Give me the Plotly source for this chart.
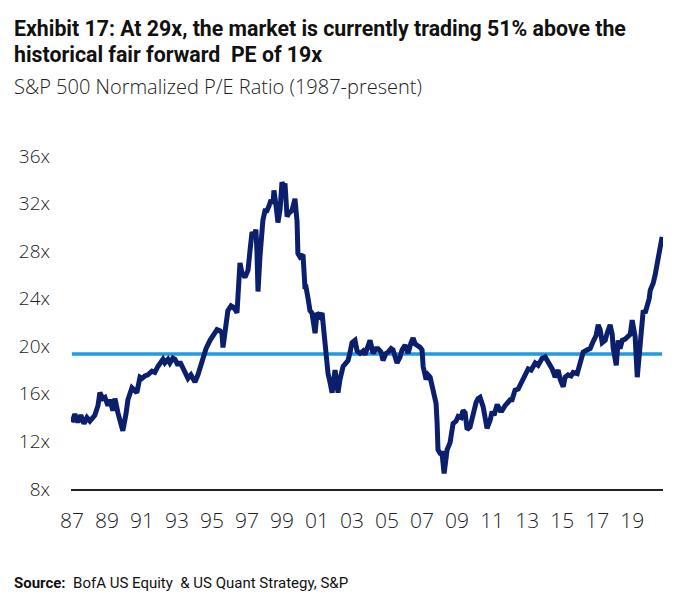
import plotly.graph_objects as go

# ---- data (decimal years, normalized forward P/E) ----
years = [
    1987.00, 1987.17, 1987.34, 1987.51, 1987.69, 1987.86, 1988.03, 1988.31, 1988.49, 1988.60,
    1988.77, 1988.89, 1989.06, 1989.17, 1989.34, 1989.46, 1989.63, 1989.80, 1989.91, 1990.09,
    1990.20, 1990.43, 1990.60, 1990.71, 1990.89, 1991.00, 1991.17, 1991.34, 1991.57, 1991.74,
    1991.91, 1992.03, 1992.20, 1992.31, 1992.49, 1992.60, 1992.77, 1992.89, 1993.06, 1993.17,
    1993.34, 1993.46, 1993.63, 1993.80, 1993.91, 1994.03, 1994.20, 1994.31, 1994.49, 1994.66,
    1994.89, 1995.11, 1995.29, 1995.46, 1995.57, 1995.63, 1995.74, 1995.91, 1996.09, 1996.20,
    1996.37, 1996.43, 1996.60, 1996.71, 1996.89, 1997.06, 1997.17, 1997.29, 1997.40, 1997.51,
    1997.57, 1997.63, 1997.74, 1997.91, 1998.03, 1998.14, 1998.26, 1998.37, 1998.49, 1998.54,
    1998.66, 1998.77, 1998.89, 1999.00, 1999.11, 1999.17, 1999.29, 1999.40, 1999.57, 1999.74,
    1999.86, 1999.91, 2000.03, 2000.20, 2000.31, 2000.37, 2000.49, 2000.60, 2000.71, 2000.89,
    2001.00, 2001.17, 2001.29, 2001.46, 2001.63, 2001.74, 2001.86, 2002.03, 2002.20, 2002.31,
    2002.49, 2002.66, 2002.77, 2002.89, 2003.00, 2003.17, 2003.29, 2003.46, 2003.63, 2003.74,
    2003.91, 2004.03, 2004.20, 2004.37, 2004.49, 2004.66, 2004.77, 2004.94, 2005.06, 2005.23,
    2005.34, 2005.46, 2005.57, 2005.74, 2005.86, 2006.03, 2006.20, 2006.37, 2006.49, 2006.60,
    2006.71, 2006.89, 2007.00, 2007.06, 2007.23, 2007.34, 2007.46, 2007.63, 2007.80, 2007.86,
    2007.91, 2008.03, 2008.14, 2008.26, 2008.43, 2008.60, 2008.77, 2008.94, 2009.06, 2009.23,
    2009.34, 2009.46, 2009.57, 2009.74, 2009.86, 2009.97, 2010.09, 2010.20, 2010.31, 2010.49,
    2010.60, 2010.71, 2010.89, 2011.00, 2011.11, 2011.29, 2011.46, 2011.57, 2011.74, 2011.86,
    2012.03, 2012.14, 2012.31, 2012.49, 2012.60, 2012.77, 2012.89, 2013.06, 2013.23, 2013.46,
    2013.63, 2013.86, 2014.03, 2014.14, 2014.31, 2014.43, 2014.60, 2014.77, 2014.89, 2015.06,
    2015.17, 2015.34, 2015.51, 2015.63, 2015.86, 2016.03, 2016.20, 2016.43, 2016.60, 2016.77,
    2016.94, 2017.06, 2017.17, 2017.29, 2017.46, 2017.57, 2017.74, 2017.86, 2017.91, 2018.09,
    2018.20, 2018.31, 2018.43, 2018.60, 2018.71, 2018.89, 2019.00, 2019.11, 2019.17, 2019.29,
    2019.40, 2019.46, 2019.63, 2019.74, 2019.86, 2019.97, 2020.03, 2020.14, 2020.20, 2020.31,
    2020.43, 2020.49, 2020.60, 2020.71,
]
pe_ratio = [
    13.6, 14.3, 13.6, 14.2, 13.5, 14.0, 13.7, 14.2, 15.0, 16.1,
    15.6, 15.7, 15.0, 15.5, 14.6, 15.6, 14.4, 13.2, 12.9, 14.3,
    15.5, 16.5, 16.2, 16.1, 17.4, 17.3, 17.5, 17.6, 17.9, 17.8,
    18.3, 18.6, 18.9, 18.6, 18.9, 18.6, 19.0, 18.9, 18.4, 18.7,
    18.2, 17.7, 17.3, 17.6, 17.2, 17.0, 17.6, 18.2, 19.1, 19.8,
    20.5, 21.0, 21.4, 21.3, 21.1, 19.9, 21.0, 23.0, 23.4, 23.3,
    23.0, 22.8, 27.0, 26.2, 25.8, 26.4, 28.0, 29.6, 29.3, 29.8,
    28.0, 24.6, 27.5, 30.6, 31.4, 31.4, 31.8, 32.3, 32.0, 33.1,
    31.8, 30.4, 31.5, 33.8, 33.3, 33.7, 30.9, 31.2, 31.4, 32.4,
    30.5, 27.8, 27.5, 27.7, 25.0, 25.0, 24.0, 23.0, 22.8, 21.1,
    22.8, 22.5, 22.8, 20.0, 17.7, 17.0, 16.1, 18.0, 16.1, 17.2,
    18.3, 18.6, 18.8, 19.5, 20.3, 20.5, 19.6, 19.4, 19.6, 19.3,
    19.9, 20.5, 19.4, 19.8, 19.8, 19.5, 18.8, 19.4, 19.5, 19.8,
    19.7, 19.2, 18.6, 19.1, 19.7, 20.1, 19.4, 20.3, 20.7, 20.2,
    20.1, 19.9, 19.7, 18.3, 17.2, 17.6, 17.4, 16.2, 15.2, 13.5,
    11.3, 11.0, 11.0, 9.3, 11.3, 11.9, 13.5, 13.7, 14.1, 14.0,
    14.6, 14.4, 13.0, 13.2, 14.1, 14.8, 15.3, 15.6, 15.7, 14.9,
    14.0, 13.1, 13.8, 14.5, 14.2, 15.1, 14.6, 14.6, 15.0, 15.2,
    15.5, 15.5, 16.3, 16.4, 16.7, 17.2, 17.7, 18.1, 18.0, 18.6,
    18.4, 19.0, 19.1, 18.8, 18.5, 18.1, 17.4, 18.0, 17.2, 16.6,
    17.4, 17.6, 17.5, 17.8, 17.7, 18.8, 19.5, 19.7, 19.8, 20.4,
    20.9, 21.8, 21.4, 20.3, 20.5, 21.1, 21.8, 21.0, 19.9, 18.4,
    20.5, 19.8, 20.5, 20.6, 20.8, 21.0, 22.2, 21.0, 20.8, 17.4,
    19.5, 20.8, 23.0, 22.8, 23.3, 24.0, 24.7, 25.0, 25.3, 26.0,
    27.0, 27.8, 28.3, 29.2,
]
fair_pe = 19.35

x_tick_vals = list(range(1987, 2020, 2))
x_tick_text = ["87", "89", "91", "93", "95", "97", "99", "01", "03", "05",
               "07", "09", "11", "13", "15", "17", "19"]
y_tick_vals = [8, 12, 16, 20, 24, 28, 32, 36]
y_tick_text = ["8x", "12x", "16x", "20x", "24x", "28x", "32x", "36x"]

title_line1 = "Exhibit 17: At 29x, the market is currently trading 51% above the"
title_line2 = "historical fair forward  PE of 19x"
subtitle = "S&P 500 Normalized P/E Ratio (1987-present)"
source_bold = "Source:"
source_text = "BofA US Equity  & US Quant Strategy, S&P"

# ---- layout geometry ----
W, H = 680, 612
ML, MR, MT, MB = 71, 17, 150, 123
PW, PH = W - ML - MR, H - MT - MB


def px_x(px):
    return (px - ML) / PW


def px_y(py):
    return (H - MB - py) / PH


NAVY = "#0B1F6C"
BLUE = "#1E9BE1"
TITLE_FONT = "Roboto, Liberation Sans, Arial, sans-serif"
BODY_FONT = "Open Sans, Liberation Sans, sans-serif"

fig = go.Figure()
fig.add_trace(go.Scatter(
    x=[years[0], years[-1]], y=[fair_pe, fair_pe], mode="lines",
    line=dict(color=BLUE, width=3.5), hoverinfo="skip", showlegend=False,
))
fig.add_trace(go.Scatter(
    x=years, y=pe_ratio, mode="lines",
    line=dict(color=NAVY, width=5), showlegend=False,
))

fig.update_layout(
    width=W, height=H,
    margin=dict(l=ML, r=MR, t=MT, b=MB),
    paper_bgcolor="white", plot_bgcolor="white",
    font=dict(family=BODY_FONT, color="#222222"),
    xaxis=dict(
        range=[1986.95, 2020.76], tickvals=x_tick_vals, ticktext=x_tick_text,
        showgrid=False, zeroline=False, showline=True, linecolor="#222222", linewidth=2,
        ticks="", tickfont=dict(size=21, color="#222222", family=BODY_FONT, weight=300),
        ticklabelstandoff=12,
    ),
    yaxis=dict(
        range=[8, 36.5], tickvals=y_tick_vals, ticktext=y_tick_text,
        showgrid=False, zeroline=False, showline=False,
        ticks="", tickfont=dict(size=19, color="#222222", family=BODY_FONT, weight=300),
        ticklabelstandoff=20,
    ),
)

annos = [
    dict(text="<b>" + title_line1 + "</b>", x=px_x(12), y=px_y(28),
         font=dict(size=21.3, family=TITLE_FONT, color="#111111")),
    dict(text="<b>" + title_line2 + "</b>", x=px_x(12), y=px_y(55),
         font=dict(size=21.3, family=TITLE_FONT, color="#111111")),
    dict(text=subtitle, x=px_x(12), y=px_y(87),
         font=dict(size=20, family=BODY_FONT, color="#222222", weight=300)),
    dict(text="<b>" + source_bold + "</b>  " + source_text, x=px_x(12), y=px_y(583),
         font=dict(size=15, family=TITLE_FONT, color="#111111")),
]
for a in annos:
    fig.add_annotation(xref="paper", yref="paper", xanchor="left", yanchor="middle",
                       showarrow=False, **a)

fig.write_html("out.html")
